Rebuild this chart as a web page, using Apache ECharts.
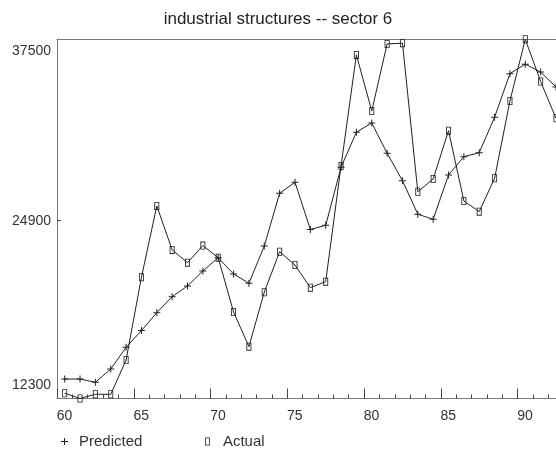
<!DOCTYPE html>
<html><head><meta charset="utf-8">
<script src="https://cdn.jsdelivr.net/npm/echarts@6/dist/echarts.min.js"></script>
<style>html,body{margin:0;padding:0;background:#fff}#c{width:556px;height:451px}</style>
</head><body><div id="c"></div>
<script>
const years = [60,61,62,63,64,65,66,67,68,69,70,71,72,73,74,75,76,77,78,79,80,81,82,83,84,85,86,87,88,89,90,91,92];
const predicted = [12680,12680,12430,13450,15120,16400,17780,19010,19830,20980,22000,20750,20040,22900,26950,27800,24170,24490,28950,31640,32350,30030,27920,25340,24950,28360,29760,30070,32790,36140,36870,36260,35120];
const actual = [11590,11190,11510,11510,14140,20500,25980,22600,21620,22930,22000,17830,15170,19350,22460,21440,19700,20160,29050,37580,33270,38420,38480,27070,28050,31760,26360,25540,28100,34040,38780,35530,32710];
const yTickLabels = [12300, 24900, 37500];
const yMajorTicks = [24900];
const xTickLabels = [60,65,70,75,80,85,90];
const seriesNames = ['Predicted', 'Actual'];

const FONT = 'Liberation Sans';
const plusPath = 'path://M3,0H4V7H3Z M0,3H7V4H0Z';
const rectPath = 'path://M0,0H6V10H0Z M1,1V9H5V1Z';
const ink = '#222';
const axisGrey = '#7a7a7a';

const chart = echarts.init(document.getElementById('c'), null, {renderer: 'canvas'});
const xBase = {type: 'value', min: 60, max: 92.5, splitLine: {show: false}, gridIndex: 0};
chart.setOption({
  animation: false,
  backgroundColor: '#fff',
  title: {
    text: 'industrial structures -- sector 6',
    left: 'center', top: 6,
    padding: [5, 16, 5, 0],
    textStyle: {fontFamily: FONT, fontSize: 17, fontWeight: 'normal', color: '#222'}
  },
  grid: {left: 57, top: 39, right: 0, bottom: 52.5, containLabel: false},
  legend: [
    {data: [{name: seriesNames[0], icon: plusPath}], left: 56, top: 429, itemWidth: 7, itemHeight: 7,
     textStyle: {fontFamily: FONT, fontSize: 15, color: '#333', padding: [0,0,0,6]}},
    {data: [{name: seriesNames[1], icon: rectPath}], left: 200, top: 429, itemWidth: 5, itemHeight: 8,
     textStyle: {fontFamily: FONT, fontSize: 15, color: '#333', padding: [0,0,0,8]}}
  ],
  xAxis: [
    Object.assign({}, xBase, {
      position: 'bottom',
      axisLine: {show: true, onZero: false, lineStyle: {color: axisGrey, width: 1}},
      axisTick: {show: true, inside: true, length: 4, customValues: years, lineStyle: {color: '#444'}},
      axisLabel: {show: true, customValues: xTickLabels, margin: 11, padding: [0,0,0,15],
        fontFamily: FONT, fontSize: 14, color: '#333'}
    }),
    Object.assign({}, xBase, {
      position: 'bottom',
      axisLine: {show: false},
      axisTick: {show: true, inside: true, length: 10, customValues: xTickLabels, lineStyle: {color: '#444'}},
      axisLabel: {show: false}
    }),
    Object.assign({}, xBase, {
      position: 'top',
      axisLine: {show: true, onZero: false, lineStyle: {color: axisGrey, width: 1}},
      axisTick: {show: false},
      axisLabel: {show: false}
    })
  ],
  yAxis: {
    type: 'value', min: 11186, max: 38800,
    splitLine: {show: false},
    axisLine: {show: true, onZero: false, lineStyle: {color: axisGrey, width: 1}},
    axisTick: {show: true, inside: true, length: 4, customValues: yMajorTicks, lineStyle: {color: '#444'}},
    axisLabel: {
      customValues: yTickLabels, margin: 6,
      fontFamily: FONT, fontSize: 14, color: '#333',
      formatter: function (v) { return v === 37500 ? '{t|' + v + '}' : '{n|' + v + '}'; },
      rich: {
        t: {fontFamily: FONT, fontSize: 14, color: '#333', padding: [0,0,10,0]},
        n: {fontFamily: FONT, fontSize: 14, color: '#333', padding: [3,0,0,0]}
      }
    }
  },
  series: [
    {
      name: seriesNames[0], type: 'line', xAxisIndex: 0, yAxisIndex: 0,
      data: years.map((y, i) => [y + 0.5, predicted[i]]),
      symbol: plusPath, symbolSize: 7, showAllSymbol: true, clip: false,
      lineStyle: {color: ink, width: 1}, itemStyle: {color: ink},
      emphasis: {disabled: true}
    },
    {
      name: seriesNames[1], type: 'line', xAxisIndex: 0, yAxisIndex: 0,
      data: years.map((y, i) => [y + 0.5, actual[i]]),
      symbol: rectPath, symbolSize: [5, 8], showAllSymbol: true, clip: false,
      lineStyle: {color: ink, width: 1}, itemStyle: {color: ink},
      emphasis: {disabled: true}
    }
  ]
});
</script>
</body></html>
